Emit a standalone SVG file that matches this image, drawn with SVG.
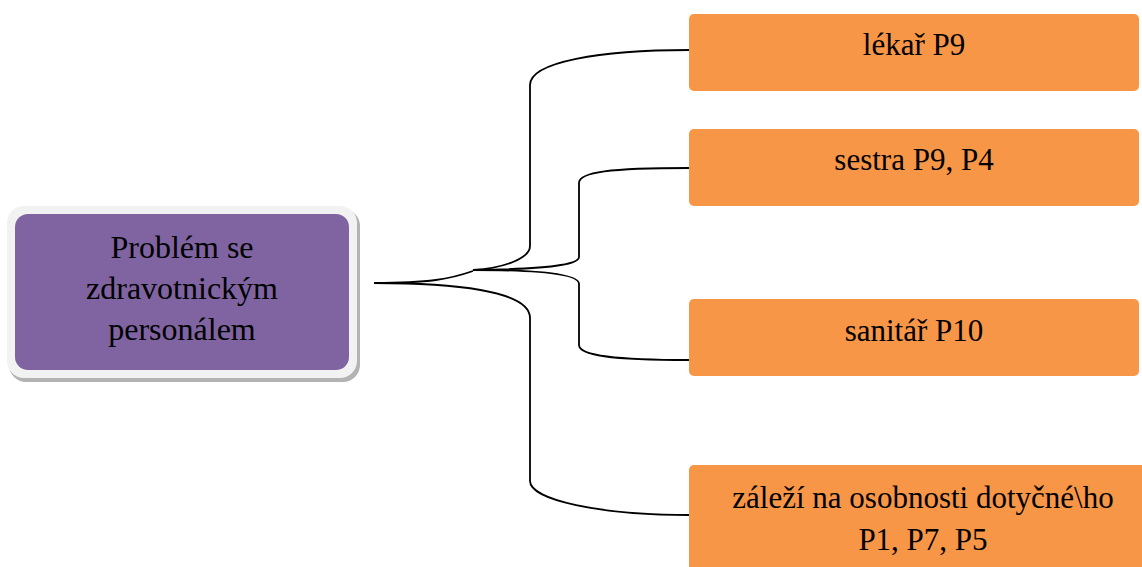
<svg xmlns="http://www.w3.org/2000/svg" width="1142" height="567" viewBox="0 0 1142 567">
  <style>
    .label { font-family: "Liberation Serif", "Times New Roman", serif; font-size: 31px; fill: #000; text-anchor: middle; }
    .root-label { font-size: 32px; }
    .leaf { fill: #F79646; }
    .link { fill: none; stroke: #000; stroke-width: 1.8; }
  </style>
  <rect width="1142" height="567" fill="#fff"/>

  <!-- root topic: framed purple box with a soft drop shadow -->
  <g id="root">
    <rect x="9" y="209" width="351" height="173" rx="17" fill="#b3b3b3"/>
    <rect x="7" y="206" width="350" height="172" rx="17" fill="#f2f2f2"/>
    <rect x="15" y="214" width="334" height="156" rx="13" fill="#8064A2"/>
    <text class="label root-label" x="182" y="258">Problém se</text>
    <text class="label root-label" x="182" y="299">zdravotnickým</text>
    <text class="label root-label" x="182" y="340">personálem</text>
  </g>

  <!-- connectors -->
  <g id="connectors">
    <path class="link" d="M374,283 C430,283 450,279 473,271"/>
    <path class="link" d="M473,270 C505,268 530,258 530,246 L530,85 C530,62 600,50 689,50"/>
    <path class="link" d="M473,270 C540,269 579,266 579,257 L579,183 C579,172 610,168 689,168"/>
    <path class="link" d="M473,270 C540,270 579,274 579,284 L579,345 C579,355 610,360 689,360"/>
    <path class="link" d="M374,283 C450,283 530,290 530,318 L530,481 C530,500 600,515 689,515"/>
  </g>

  <!-- leaf topics -->
  <g id="lekar">
    <rect class="leaf" x="689" y="14" width="450" height="77" rx="5"/>
    <text class="label" x="914" y="55">lékař P9</text>
  </g>
  <g id="sestra">
    <rect class="leaf" x="689" y="129" width="450" height="77" rx="5"/>
    <text class="label" x="914" y="170">sestra P9, P4</text>
  </g>
  <g id="sanitar">
    <rect class="leaf" x="689" y="299" width="450" height="77" rx="5"/>
    <text class="label" x="914" y="341">sanitář P10</text>
  </g>
  <g id="osobnost">
    <rect class="leaf" x="689" y="465" width="470" height="120" rx="5"/>
    <text class="label" x="923" y="508">záleží na osobnosti dotyčné\ho</text>
    <text class="label" x="923" y="550">P1, P7, P5</text>
  </g>
</svg>
